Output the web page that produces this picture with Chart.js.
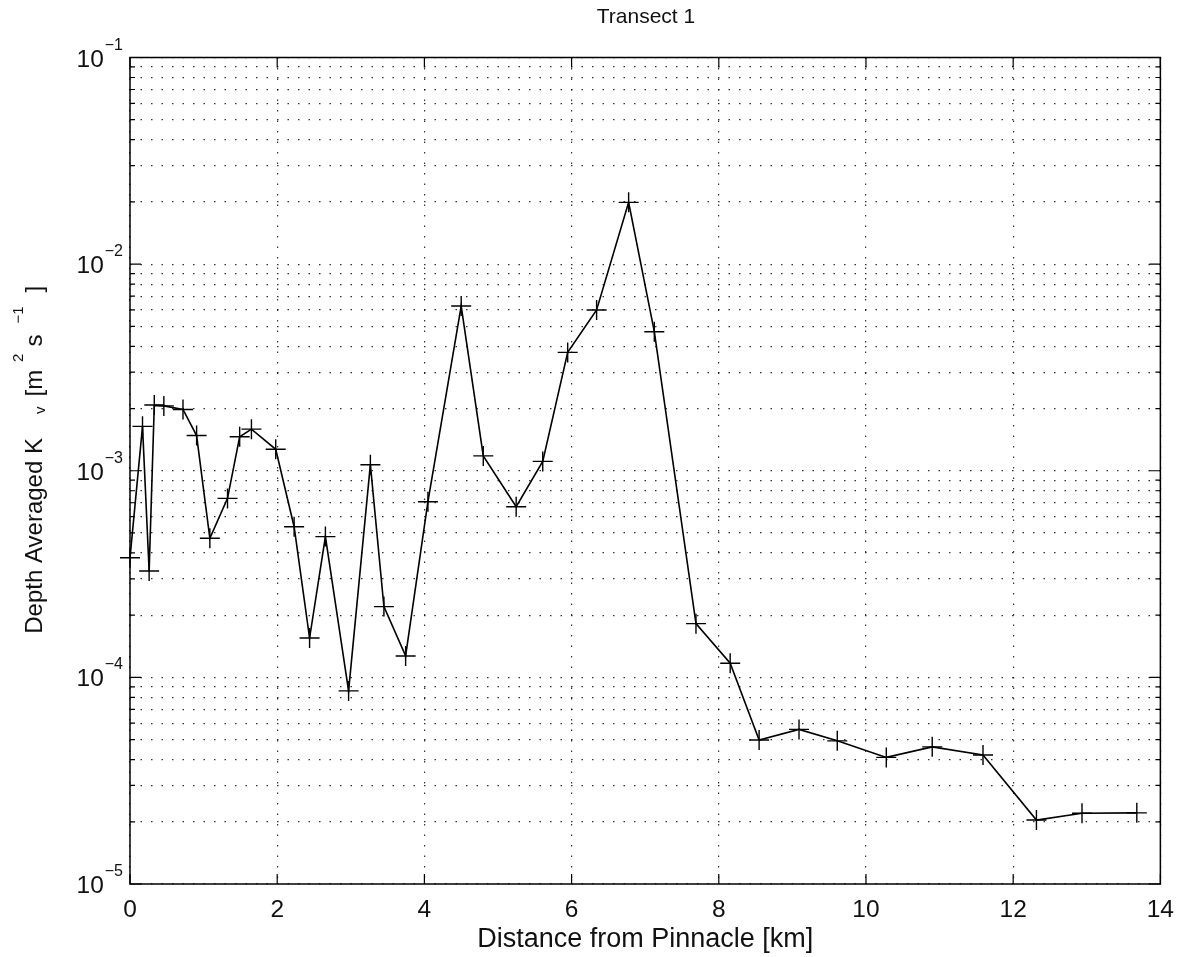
<!DOCTYPE html>
<html>
<head>
<meta charset="utf-8">
<title>Transect 1</title>
<script src="https://cdn.jsdelivr.net/npm/chart.js@4.4.1/dist/chart.umd.min.js"></script>
<style>
  html, body { margin: 0; padding: 0; background: #fff; }
  #wrap { position: relative; width: 1186px; height: 957px; }
</style>
</head>
<body>
<div id="wrap"><canvas id="kvChart" width="1186" height="957"></canvas></div>
<script>
// Distance along the transect [km]
const distanceKm = [
  0, 0.17, 0.26, 0.33, 0.46, 0.72, 0.905, 1.085, 1.325, 1.49,
  1.65, 1.98, 2.23, 2.44, 2.655, 2.97, 3.266, 3.45, 3.745, 4.048,
  4.50, 4.80, 5.247, 5.608, 5.947, 6.34, 6.775, 7.124, 7.69, 8.155,
  8.548, 9.09, 9.61, 10.276, 10.9, 11.59, 12.316, 12.935, 13.68,
];

// Depth averaged vertical diffusivity Kv [m^2 s^-1]
const kvValues = [
  3.79e-4, 1.64e-3, 3.27e-4, 2.08e-3, 2.06e-3, 1.98e-3, 1.48e-3, 4.71e-4, 7.35e-4, 1.46e-3,
  1.59e-3, 1.27e-3, 5.36e-4, 1.55e-4, 4.80e-4, 8.6e-5, 1.07e-3, 2.20e-4, 1.27e-4, 7.08e-4,
  6.27e-3, 1.18e-3, 6.70e-4, 1.11e-3, 3.74e-3, 6.0e-3, 1.99e-2, 4.71e-3, 1.82e-4, 1.17e-4,
  4.98e-5, 5.6e-5, 4.93e-5, 4.10e-5, 4.61e-5, 4.21e-5, 2.04e-5, 2.20e-5, 2.21e-5,
];

// log axis: decades and the mantissas that get a grid line
const yDecades = [-5, -4, -3, -2, -1];
const yMantissas = [1, 2, 3, 4, 5, 6, 7, 8, 9];
const xTickStep = 2;

const FONT = "'Liberation Sans', Arial, Helvetica, sans-serif";
const INK = '#111';

function buildLogTicks() {
  const ticks = [];
  yDecades.forEach((d, i) => {
    const mants = i === yDecades.length - 1 ? [1] : yMantissas;
    mants.forEach(m => {
      ticks.push({ value: m * Math.pow(10, d), major: m === 1 });
    });
  });
  return ticks;
}

// text runs with super/subscripts, drawn left to right on one baseline
function richWidth(ctx, parts) {
  let w = 0;
  parts.forEach(p => {
    ctx.font = `${p.size}px ${FONT}`;
    w += (p.gap || 0) + ctx.measureText(p.text).width;
  });
  return w;
}

function drawRich(ctx, parts, x, y) {
  let cx = x;
  parts.forEach(p => {
    ctx.font = `${p.size}px ${FONT}`;
    cx += p.gap || 0;
    ctx.fillText(p.text, cx, y + (p.dy || 0));
    cx += ctx.measureText(p.text).width;
  });
}

const yTitleParts = [
  { text: 'Depth Averaged K', size: 24 },
  { text: 'v', size: 15, dy: 3, gap: 24 },
  { text: '[m', size: 24, gap: 10 },
  { text: '2', size: 15, dy: -19, gap: 8 },
  { text: 's', size: 24, gap: 7 },
  { text: '\u22121', size: 15, dy: -19, gap: 11 },
  { text: ']', size: 24, gap: 14 },
];

// box, inward ticks, 10^n labels and the y title
const matlabAxes = {
  id: 'matlabAxes',
  afterDraw(chart) {
    const { ctx, chartArea: a, scales: { x, y } } = chart;
    ctx.save();
    ctx.strokeStyle = '#000';
    ctx.lineWidth = 1.5;
    ctx.strokeRect(a.left, a.top, a.right - a.left, a.bottom - a.top);

    ctx.lineWidth = 1.2;
    ctx.beginPath();
    y.ticks.forEach(t => {
      const py = y.getPixelForValue(t.value);
      const len = t.major ? 11 : 5;
      ctx.moveTo(a.left, py); ctx.lineTo(a.left + len, py);
      ctx.moveTo(a.right, py); ctx.lineTo(a.right - len, py);
    });
    x.ticks.forEach(t => {
      const px = x.getPixelForValue(t.value);
      ctx.moveTo(px, a.bottom); ctx.lineTo(px, a.bottom - 10);
      ctx.moveTo(px, a.top); ctx.lineTo(px, a.top + 10);
    });
    ctx.stroke();

    ctx.fillStyle = INK;
    ctx.textAlign = 'left';
    ctx.textBaseline = 'alphabetic';
    yDecades.forEach(d => {
      const py = y.getPixelForValue(Math.pow(10, d));
      const parts = [
        { text: '10', size: 24.5, dy: 9 },
        { text: '\u2212' + Math.abs(d), size: 16, dy: -8, gap: 1 },
      ];
      drawRich(ctx, parts, a.left - 7 - richWidth(ctx, parts), py);
    });

    ctx.translate(42, (a.top + a.bottom) / 2 - 11);
    ctx.rotate(-Math.PI / 2);
    drawRich(ctx, yTitleParts, -richWidth(ctx, yTitleParts) / 2, 0);
    ctx.restore();
  },
};

const gridDots = { color: 'rgba(0,0,0,0.8)', lineWidth: 1.2, drawTicks: false };

new Chart(document.getElementById('kvChart'), {
  type: 'line',
  data: {
    labels: distanceKm,
    datasets: [{
      data: distanceKm.map((d, i) => ({ x: d, y: kvValues[i] })),
      borderColor: '#000',
      borderWidth: 1.6,
      pointStyle: 'cross',
      pointRadius: 10,
      pointBorderWidth: 1.4,
      pointBorderColor: '#000',
      tension: 0,
      clip: false,
    }],
  },
  options: {
    responsive: false,
    animation: false,
    devicePixelRatio: 1,
    layout: { padding: { left: 130, right: 24, top: 0, bottom: 0 } },
    plugins: {
      legend: { display: false },
      tooltip: { enabled: false },
      title: {
        display: true,
        text: 'Transect 1',
        color: INK,
        font: { family: FONT, size: 21, weight: 'normal' },
        padding: { top: 5, bottom: 27.3 },
      },
    },
    scales: {
      x: {
        type: 'linear',
        min: 0,
        max: 14,
        afterFit: s => { s.height = 73; },
        ticks: { stepSize: xTickStep, color: INK, padding: 12, font: { family: FONT, size: 24.5 } },
        grid: gridDots,
        border: { display: false, dash: [1.5, 9] },
        title: {
          display: true,
          text: 'Distance from Pinnacle [km]',
          color: INK,
          font: { family: FONT, size: 27 },
          padding: { top: 0, bottom: 1 },
        },
      },
      y: {
        type: 'logarithmic',
        min: 1e-5,
        max: 1e-1,
        afterBuildTicks: s => { s.ticks = buildLogTicks(); },
        afterFit: s => { s.width = 0; },
        ticks: { display: false },
        grid: gridDots,
        border: { display: false, dash: [1.5, 9] },
      },
    },
  },
  plugins: [matlabAxes],
});
</script>
</body>
</html>
